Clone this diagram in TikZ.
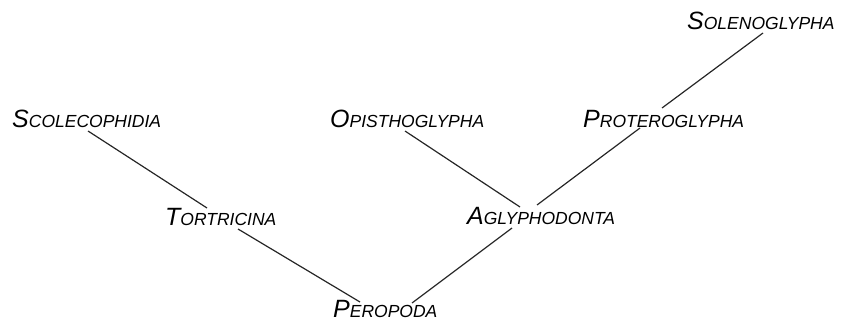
\documentclass[tikz,border=0pt]{standalone}
\usepackage{fontspec}
\newfontfamily\taxfont{Liberation Sans}
\newcommand\capsc[2]{{\fontsize{25}{25}\selectfont #1}{\fontsize{17.5}{17.5}\selectfont #2}}
\tikzset{taxon/.style={inner sep=0pt, anchor=base west, font=\taxfont\itshape},
  branch/.style={line width=1.2pt, black!85}}
\begin{document}
\begin{tikzpicture}[x=1pt,y=-1pt]
        \useasboundingbox (0,0) rectangle (841,322);
        \node[taxon] (scol) at (12,127) {\capsc{S}{COLECOPHIDIA}};
        \node[taxon] (tort) at (165,225) {\capsc{T}{ORTRICINA}};
        \node[taxon] (perop) at (333,317) {\capsc{P}{EROPODA}};
        \node[taxon] (opis) at (330,127) {\capsc{O}{PISTHOGLYPHA}};
        \node[taxon] (agly) at (467,224) {\capsc{A}{GLYPHODONTA}};
        \node[taxon] (prot) at (583,127) {\capsc{P}{ROTEROGLYPHA}};
        \node[taxon] (sole) at (687,29) {\capsc{S}{OLENOGLYPHA}};
        \draw[branch] ([shift={(76,4)}]scol.base west) -- ([shift={(42,-17)}]tort.base west);
        \draw[branch] ([shift={(73,4)}]tort.base west) -- ([shift={(27,-15)}]perop.base west);
        \draw[branch] ([shift={(79,-14)}]perop.base west) -- ([shift={(45,4)}]agly.base west);
        \draw[branch] ([shift={(53,-17)}]agly.base west) -- ([shift={(75,4)}]opis.base west);
        \draw[branch] ([shift={(70,-19)}]agly.base west) -- ([shift={(57,1)}]prot.base west);
        \draw[branch] ([shift={(79,-19)}]prot.base west) -- ([shift={(76,4)}]sole.base west);
    \end{tikzpicture}
\end{document}
